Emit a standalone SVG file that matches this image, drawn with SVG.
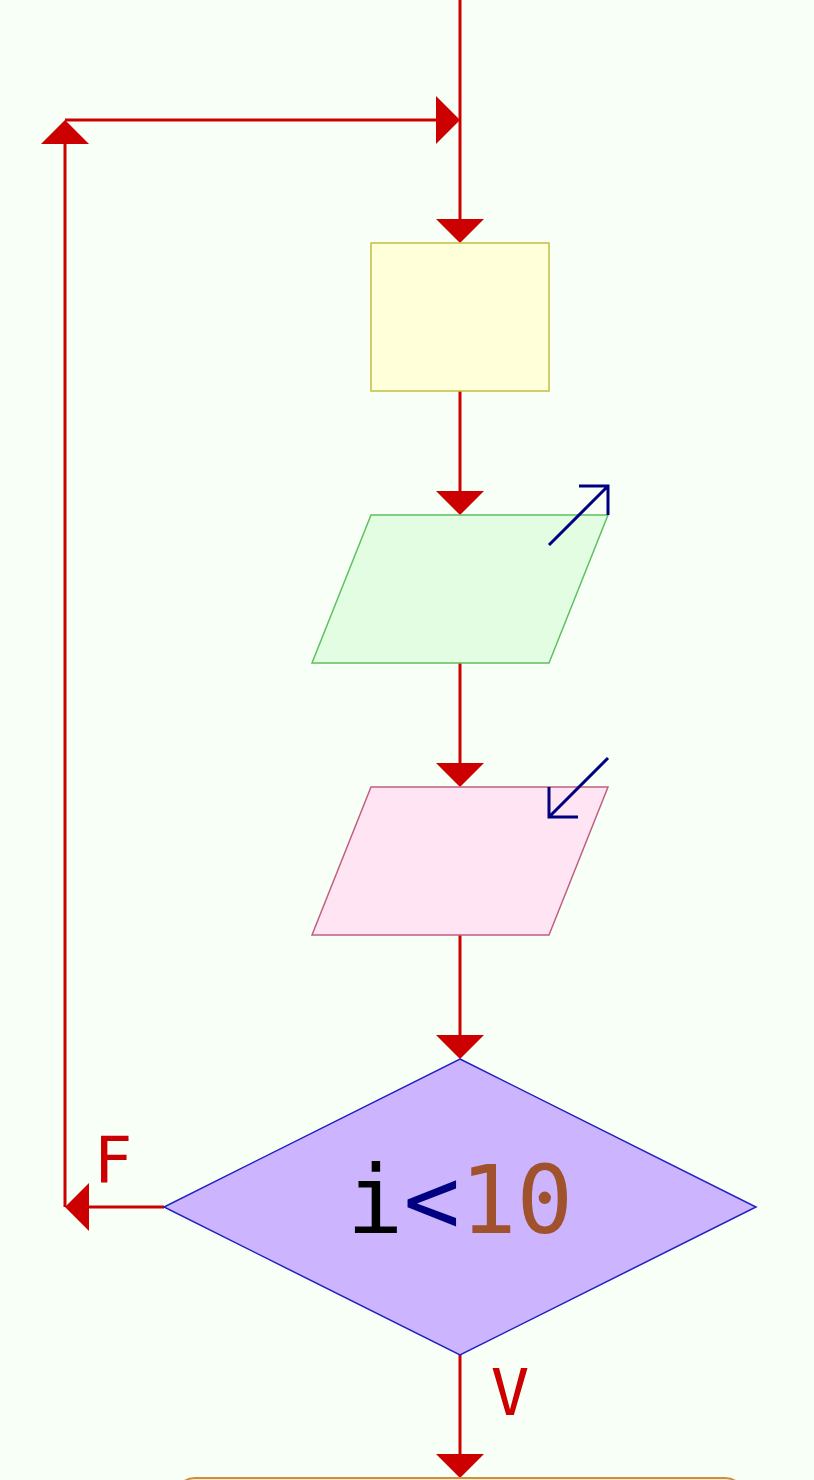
<svg xmlns="http://www.w3.org/2000/svg" width="814" height="1480" viewBox="0 0 814 1480">
<defs>
<style>
.c{stroke:#cc0000;stroke-width:3;fill:none}
.ah{fill:#cc0000}
.icon{stroke:#000080;stroke-width:3;fill:none}
.lbl{font-family:"DejaVu Sans Mono","Liberation Mono",monospace;fill:#cc0000;font-size:64px}
</style>
</defs>
<rect width="814" height="1480" fill="#f7fff7"/>
<g id="connectors">
<path class="c" d="M460 0 V222"/>
<polygon class="ah" points="436,219 484,219 460,243"/>
<path class="c" d="M65 1207 V141"/>
<polygon class="ah" points="41,144 89,144 65,120"/>
<path class="c" d="M65 120 H440"/>
<polygon class="ah" points="436,96 436,144 460,120"/>
<path class="c" d="M460 391 V494"/>
<polygon class="ah" points="436,491 484,491 460,515"/>
<path class="c" d="M460 663 V766"/>
<polygon class="ah" points="436,763 484,763 460,787"/>
<path class="c" d="M460 935 V1038"/>
<polygon class="ah" points="436,1035 484,1035 460,1059"/>
<path class="c" d="M164 1207 H86"/>
<polygon class="ah" points="89,1183 89,1231 65,1207"/>
<path class="c" d="M460 1355 V1457"/>
<polygon class="ah" points="436,1454 484,1454 460,1478"/>
<text class="lbl" x="113" y="1182" text-anchor="middle">F</text>
<text class="lbl" x="510" y="1415" text-anchor="middle">V</text>
</g>
<g id="process">
<rect x="371" y="243" width="178" height="148" fill="#ffffd9" stroke="#c0c040" stroke-width="1.5"/>
</g>
<g id="output">
<polygon points="371,515 608,515 549,663 312,663" fill="#e3fde3" stroke="#60c060" stroke-width="1.5"/>
<path class="icon" d="M549 545 L608 486 M579 486 H608 V515"/>
</g>
<g id="input">
<polygon points="371,787 608,787 549,935 312,935" fill="#ffe5f3" stroke="#c06080" stroke-width="1.5"/>
<path class="icon" d="M608 758 L549 817 M549 787 V817 H578"/>
</g>
<g id="decision">
<polygon points="460,1059 756,1207 460,1355 164,1207" fill="#ccb4ff" stroke="#2020c0" stroke-width="1.5"/>
<text x="460" y="1233" text-anchor="middle" font-family="DejaVu Sans Mono, monospace" font-size="94"><tspan fill="#000000">i</tspan><tspan fill="#000080">&lt;</tspan><tspan fill="#a0522d">10</tspan></text>
</g>
<g id="end">
<rect x="175" y="1478" width="570" height="60" rx="20" fill="#ffe8c0" stroke="#c89040" stroke-width="2"/>
</g>
</svg>
